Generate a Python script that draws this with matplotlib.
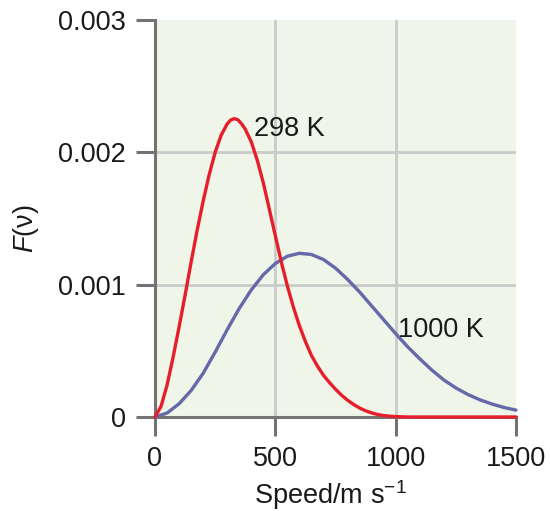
import matplotlib
matplotlib.use("Agg")
import matplotlib.pyplot as plt

# ---- data (speed in m/s, F in units of 1e-3) ----
speed_298 = [0, 25, 50, 75, 100, 125, 150, 175, 200, 225, 250, 275, 300, 315, 330,
             345, 360, 375, 400, 425, 450, 475, 500, 525, 550, 575, 600, 625, 650,
             675, 700, 725, 750, 775, 800, 825, 850, 875, 900, 925, 950, 975, 1000,
             1050, 1100, 1200, 1300, 1400, 1500]
f_298 = [0, 0.08, 0.24, 0.45, 0.68, 0.92, 1.17, 1.41, 1.63, 1.83, 2.00, 2.13, 2.215,
         2.245, 2.255, 2.245, 2.215, 2.175, 2.08, 1.94, 1.77, 1.57, 1.37, 1.17, 0.99,
         0.83, 0.69, 0.57, 0.465, 0.385, 0.315, 0.26, 0.21, 0.165, 0.127, 0.095,
         0.068, 0.047, 0.031, 0.019, 0.011, 0.006, 0.003, 0.0, 0.0, 0.0, 0.0, 0.0, 0.0]

speed_1000 = [0, 50, 100, 150, 200, 250, 300, 350, 400, 450, 500, 550, 600, 650, 700,
              750, 800, 850, 900, 950, 1000, 1050, 1100, 1150, 1200, 1250, 1300, 1350,
              1400, 1450, 1500]
f_1000 = [0, 0.03, 0.10, 0.20, 0.33, 0.49, 0.66, 0.82, 0.96, 1.075, 1.16, 1.215, 1.237,
          1.228, 1.19, 1.125, 1.04, 0.945, 0.84, 0.735, 0.63, 0.53, 0.44, 0.355, 0.28,
          0.22, 0.17, 0.13, 0.098, 0.072, 0.052]

xticks = [0, 500, 1000, 1500]
yticks = [0, 0.001, 0.002, 0.003]
ytick_labels = ["0", "0.001", "0.002", "0.003"]
label_298 = "298 K"
label_1000 = "1000 K"

plt.rcParams['font.family'] = ['Liberation Sans', 'DejaVu Sans']
plt.rcParams['mathtext.fontset'] = 'custom'
plt.rcParams['mathtext.rm'] = 'Liberation Sans'
plt.rcParams['mathtext.it'] = 'Liberation Sans:italic'

fig = plt.figure(figsize=(5.5, 5.11), dpi=100)
ax = fig.add_axes([155/550, 94/511, 361/550, 397/511])
ax.set_facecolor('#eff5e8')

ax.set_xlim(0, 1500)
ax.set_ylim(0, 0.003)

grid_c = '#c9cbc9'
for v in [500, 1000]:
    ax.axvline(v, color=grid_c, lw=2.0, zorder=1)
for v in [0.001, 0.002]:
    ax.axhline(v, color=grid_c, lw=2.0, zorder=1)

red = '#e61e2b'
blue = '#6568a9'
ax.plot(speed_1000, [v * 1e-3 for v in f_1000], color=blue, lw=2.4, zorder=3,
        clip_on=False, solid_capstyle='round', solid_joinstyle='round')
ax.plot(speed_298, [v * 1e-3 for v in f_298], color=red, lw=2.4, zorder=4,
        clip_on=False, solid_capstyle='round', solid_joinstyle='round')

txt_c = '#1a1a1a'
ax.text(413, 0.00218, label_298, fontsize=19.5, ha='left', va='center', color=txt_c)
ax.text(1008, 0.00066, label_1000, fontsize=19.5, ha='left', va='center', color=txt_c)

spine_c = '#737373'
for s in ['top', 'right']:
    ax.spines[s].set_visible(False)
for s in ['left', 'bottom']:
    ax.spines[s].set_color(spine_c)
    ax.spines[s].set_linewidth(2.2)
    ax.spines[s].set_zorder(2.5)

ax.set_xticks(xticks)
ax.set_xticklabels([str(t) for t in xticks])
ax.set_yticks(yticks)
ax.set_yticklabels(ytick_labels)
ax.tick_params(axis='both', direction='out', length=14, width=2.2, color=spine_c,
               labelsize=19.5, labelcolor=txt_c)
ax.tick_params(axis='x', pad=7)
ax.tick_params(axis='y', pad=7)

ax.set_xlabel('Speed/m s$^{-1}$', fontsize=19.5, color=txt_c)
ax.xaxis.set_label_coords(0.485, -0.155)
ax.set_ylabel('$F$(ν)', fontsize=19.5, color=txt_c)
ax.yaxis.set_label_coords(-0.315, 0.475)

fig.savefig('out.png', dpi=100)
